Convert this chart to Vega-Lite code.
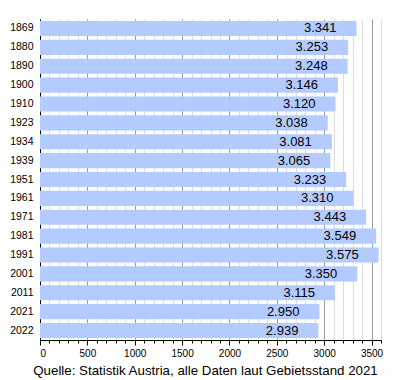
{
  "$schema": "https://vega.github.io/schema/vega-lite/v6.json",
  "width": 341,
  "height": 321,
  "autosize": "none",
  "padding": {"left": 40, "top": 19, "right": 19, "bottom": 40},
  "background": "white",
  "config": {
    "view": {"stroke": null},
    "font": "Liberation Sans",
    "locale": {"number": {"decimal": ",", "thousands": ".", "grouping": [3], "currency": ["", " €"]}}
  },
  "data": {"values": [
    {"year": "1869", "value": 3341},
    {"year": "1880", "value": 3253},
    {"year": "1890", "value": 3248},
    {"year": "1900", "value": 3146},
    {"year": "1910", "value": 3120},
    {"year": "1923", "value": 3038},
    {"year": "1934", "value": 3081},
    {"year": "1939", "value": 3065},
    {"year": "1951", "value": 3233},
    {"year": "1961", "value": 3310},
    {"year": "1971", "value": 3443},
    {"year": "1981", "value": 3549},
    {"year": "1991", "value": 3575},
    {"year": "2001", "value": 3350},
    {"year": "2011", "value": 3115},
    {"year": "2021", "value": 2950},
    {"year": "2022", "value": 2939}
  ]},
  "encoding": {
    "y": {
      "field": "year", "type": "ordinal", "sort": "ascending",
      "scale": {"paddingInner": 0.2, "paddingOuter": 0.1},
      "axis": {"title": null, "ticks": false, "domainColor": "#000", "labelFontSize": 10.5, "labelColor": "#000", "labelPadding": 7, "grid": false}
    },
    "x": {
      "field": "value", "type": "quantitative",
      "scale": {"domain": [0, 3600], "nice": false},
      "axis": {
        "title": "Quelle: Statistik Austria, alle Daten laut Gebietsstand 2021",
        "titleFontSize": 13.3, "titleFontWeight": "normal", "titleColor": "#000",
        "titleX": 165, "titleY": 34, "titleAlign": "center", "titleBaseline": "alphabetic",
        "values": [0,100,200,300,400,500,600,700,800,900,1000,1100,1200,1300,1400,1500,1600,1700,1800,1900,2000,2100,2200,2300,2400,2500,2600,2700,2800,2900,3000,3100,3200,3300,3400,3500,3600],
        "format": "d",
        "labelExpr": "datum.value % 500 === 0 ? datum.label : ''",
        "labelFontSize": 10, "labelColor": "#000", "labelPadding": 3,
        "domainColor": "#000",
        "tickColor": "#000",
        "tickSize": {"condition": {"test": "datum.value % 500 === 0", "value": 5}, "value": 3},
        "grid": true,
        "gridColor": {"condition": {"test": "datum.value % 500 === 0", "value": "#999999"}, "value": "#dddddd"},
        "gridOpacity": 1
      }
    }
  },
  "layer": [
    {"mark": {"type": "bar", "color": "#b3cbff"}},
    {
      "mark": {"type": "text", "align": "right", "baseline": "middle", "dx": -20, "fontSize": 13, "color": "#000"},
      "encoding": {"text": {"field": "value", "type": "quantitative", "format": ",d"}}
    }
  ]
}
